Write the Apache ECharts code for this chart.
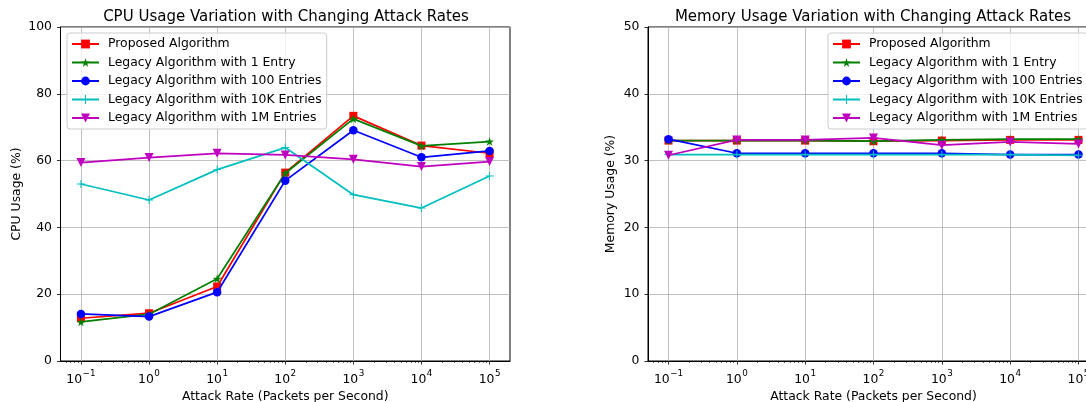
<!DOCTYPE html>
<html>
<head>
<meta charset="utf-8">
<script src="https://cdn.jsdelivr.net/npm/echarts@6/dist/echarts.min.js"></script>
<style>
html,body{margin:0;padding:0;background:#fff;}
#chart{width:1086px;height:402px;}
</style>
</head>
<body>
<div id="chart"></div>
<script>
// ---- data ----
const rates = [0.1, 1, 10, 100, 1000, 10000, 100000];
const seriesNames = [
  'Proposed Algorithm',
  'Legacy Algorithm with 1 Entry',
  'Legacy Algorithm with 100 Entries',
  'Legacy Algorithm with 10K Entries',
  'Legacy Algorithm with 1M Entries'
];
const cpuProposed  = [12.8, 14.3, 22.3, 56.4, 73.4, 64.5, 62.2];
const cpuLegacy1   = [11.7, 14.0, 24.6, 56.2, 72.5, 64.4, 65.7];
const cpuLegacy100 = [14.1, 13.3, 20.6, 54.0, 69.1, 61.0, 62.9];
const cpuLegacy10K = [53.0, 48.2, 57.3, 63.9, 49.8, 45.8, 55.4];
const cpuLegacy1M  = [59.4, 60.9, 62.2, 61.7, 60.4, 58.2, 59.7];

const memProposed  = [33.0, 33.0, 33.0, 32.9, 33.0, 33.1, 33.1];
const memLegacy1   = [33.0, 33.0, 33.0, 32.9, 33.1, 33.2, 33.2];
const memLegacy100 = [33.2, 31.1, 31.1, 31.1, 31.1, 30.9, 30.9];
const memLegacy10K = [30.9, 30.9, 30.9, 30.9, 30.9, 30.9, 30.8];
const memLegacy1M  = [30.8, 33.1, 33.1, 33.4, 32.3, 32.8, 32.5];

const xTicks = [0.1, 1, 10, 100, 1000, 10000, 100000];
const cpuTitle = 'CPU Usage Variation with Changing Attack Rates';
const memTitle = 'Memory Usage Variation with Changing Attack Rates';
const xName = 'Attack Rate (Packets per Second)';
const cpuYName = 'CPU Usage (%)';
const memYName = 'Memory Usage (%)';

// ---- styling ----
const FONT = 'DejaVu Sans';
const FS = 12.4;
const colors = ['#ff0000', '#008000', '#0000ff', '#00bfbf', '#bf00bf'];
const STAR = 'path://M0,-1L0.2245,-0.309L0.951,-0.309L0.3633,0.118L0.5878,0.809L0,0.382L-0.5878,0.809L-0.3633,0.118L-0.951,-0.309L-0.2245,-0.309Z';
const PLUS = 'path://M4.4,0h1.2v4.4h4.4v1.2h-4.4v4.4h-1.2v-4.4h-4.4v-1.2h4.4z';
const symbols = [
  {symbol: 'rect', size: 8, rotate: 0},
  {symbol: STAR, size: 9, rotate: 0},
  {symbol: 'circle', size: 8.5, rotate: 0},
  {symbol: PLUS, size: 8, rotate: 0},
  {symbol: 'triangle', size: 9, rotate: 180}
];

const logMin = Math.pow(10, -1.3), logMax = Math.pow(10, 5.3);
const minorTicks = [];
for (let e = -2; e <= 5; e++) {
  for (let k = 2; k <= 9; k++) {
    const v = k * Math.pow(10, e);
    if (v > logMin && v < logMax) minorTicks.push(v);
  }
}

function xLabel(v) {
  const e = Math.round(Math.log10(v));
  return '{b|10}{s|' + (e < 0 ? '\u2212' + (-e) : e) + '}';
}

const grids = [
  {left: 60.5, top: 27, width: 449.5, height: 334},
  {left: 648, top: 27, width: 451, height: 334}
];

function makeX(gi) {
  return [{
    type: 'log', logBase: 10, gridIndex: gi, min: logMin, max: logMax,
    name: xName, nameLocation: 'middle', nameGap: 29,
    nameTextStyle: {fontFamily: FONT, fontSize: FS, color: '#000'},
    axisLine: {show: true, lineStyle: {color: '#000', width: 1}},
    axisTick: {show: true, length: 3.5, lineStyle: {color: '#000', width: 0.8}, customValues: xTicks},
    axisLabel: {
      customValues: xTicks, margin: 8, formatter: xLabel,
      rich: {
        b: {fontFamily: FONT, fontSize: FS, color: '#000', lineHeight: 17, verticalAlign: 'bottom'},
        s: {fontFamily: FONT, fontSize: 8.8, color: '#000', lineHeight: 17, verticalAlign: 'top', padding: [0, 0, 0, 0.5]}
      }
    },
    splitLine: {show: true, lineStyle: {color: '#b0b0b0', width: 0.8}},
    minorTick: {show: false}, minorSplitLine: {show: false}
  }, {
    type: 'log', logBase: 10, gridIndex: gi, min: logMin, max: logMax, position: 'bottom',
    axisLine: {show: false},
    axisTick: {show: true, length: 2, lineStyle: {color: '#000', width: 0.6}, customValues: minorTicks},
    axisLabel: {show: false},
    splitLine: {show: false}
  }];
}

function makeY(gi, max, interval, name, gap) {
  return {
    type: 'value', gridIndex: gi, min: 0, max: max, interval: interval,
    name: name, nameLocation: 'middle', nameGap: gap, nameRotate: 90,
    nameTextStyle: {fontFamily: FONT, fontSize: FS, color: '#000'},
    axisLine: {show: true, lineStyle: {color: '#000', width: 1}},
    axisTick: {show: true, length: 3.5, lineStyle: {color: '#000', width: 0.8}},
    axisLabel: {fontFamily: FONT, fontSize: FS, color: '#000', margin: 8.5},
    splitLine: {show: true, lineStyle: {color: '#b0b0b0', width: 0.8}}
  };
}

function makeSeries(datasets, xIdx, yIdx) {
  return datasets.map((d, i) => ({
    name: seriesNames[i], type: 'line', xAxisIndex: xIdx, yAxisIndex: yIdx,
    data: rates.map((r, j) => [r, d[j]]),
    symbol: symbols[i].symbol, symbolSize: symbols[i].size, symbolRotate: symbols[i].rotate,
    symbolKeepAspect: true, showAllSymbol: true,
    z: 3 + i,
    lineStyle: {color: colors[i], width: 1.75},
    itemStyle: {color: colors[i], borderWidth: 0},
    emphasis: {disabled: true},
    animation: false
  }));
}

function makeLegend(left) {
  return {
    left: left, top: 33, orient: 'vertical', data: seriesNames,
    itemWidth: 27, itemHeight: 11, itemGap: 4.5,
    padding: [4, 5, 4, 4],
    backgroundColor: 'rgba(255,255,255,0.8)', borderColor: '#cccccc', borderWidth: 1, borderRadius: 3,
    textStyle: {fontFamily: FONT, fontSize: FS, color: '#000', lineHeight: 14, padding: [0, 0, 0, 4]},
    selectedMode: false
  };
}

const chart = echarts.init(document.getElementById('chart'), null, {renderer: 'canvas'});
const xs = makeX(0).concat(makeX(1));
chart.setOption({
  animation: false,
  backgroundColor: '#fff',
  textStyle: {fontFamily: FONT},
  title: [
    {text: cpuTitle, left: 281, top: 5, textAlign: 'center',
     textStyle: {fontFamily: FONT, fontSize: 15, fontWeight: 'normal', color: '#000'}},
    {text: memTitle, left: 868, top: 5, textAlign: 'center',
     textStyle: {fontFamily: FONT, fontSize: 15, fontWeight: 'normal', color: '#000'}}
  ],
  grid: grids.map(g => Object.assign({show: true, borderColor: '#000', borderWidth: 1, backgroundColor: 'transparent', containLabel: false, outerBoundsMode: 'none'}, g)),
  xAxis: xs,
  yAxis: [makeY(0, 100, 20, cpuYName, 38), makeY(1, 50, 10, memYName, 31)],
  legend: [makeLegend(67), makeLegend(828)],
  series: makeSeries([cpuProposed, cpuLegacy1, cpuLegacy100, cpuLegacy10K, cpuLegacy1M], 0, 0)
    .concat(makeSeries([memProposed, memLegacy1, memLegacy100, memLegacy10K, memLegacy1M], 2, 1))
});
</script>
</body>
</html>
